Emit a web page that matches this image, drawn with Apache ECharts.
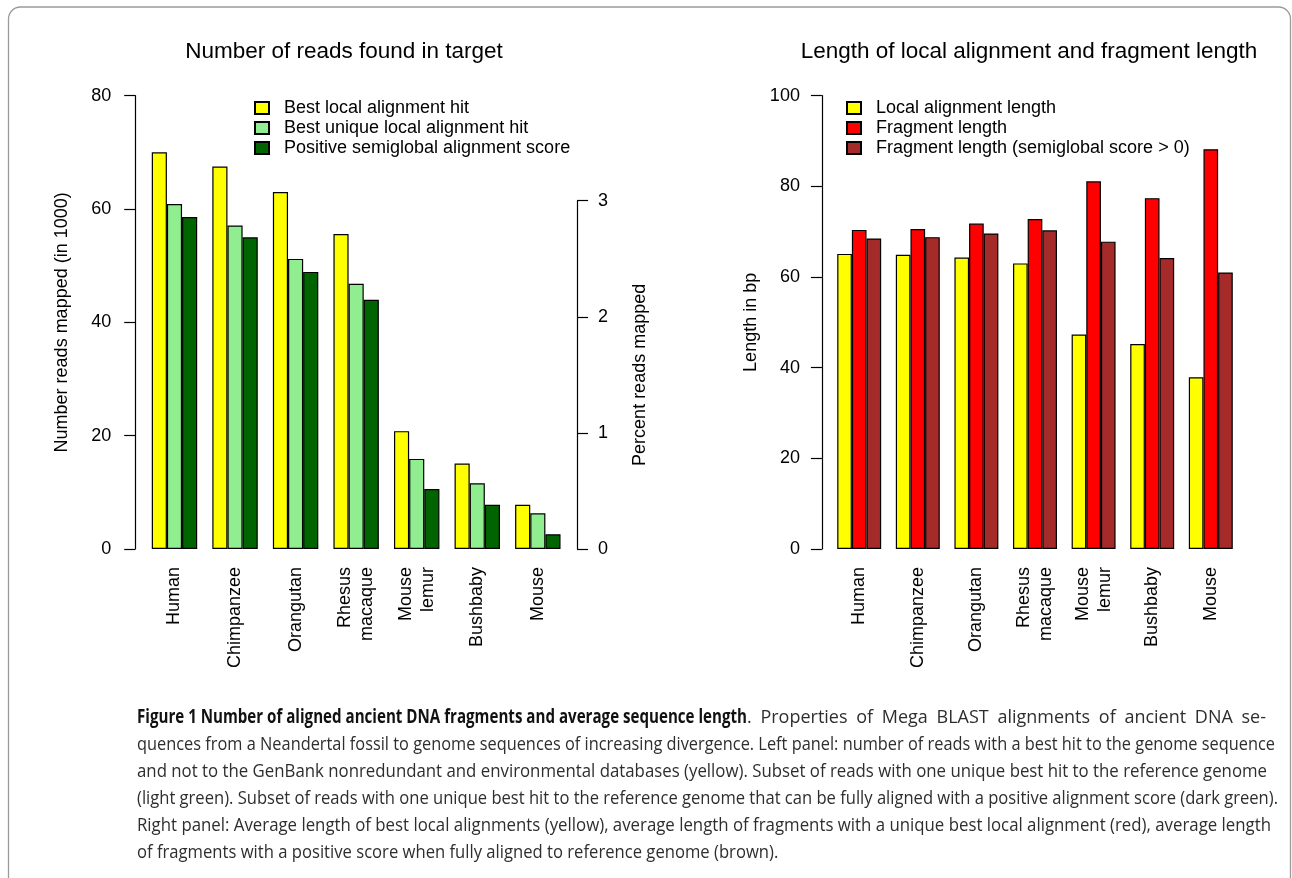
<!DOCTYPE html>
<html>
<head>
<meta charset="utf-8">
<script src="https://cdn.jsdelivr.net/npm/echarts@6/dist/echarts.min.js"></script>
<style>
  html, body { margin: 0; padding: 0; background: #fff; }
  #chart { width: 1292px; height: 878px; }
</style>
</head>
<body>
<div id="chart"></div>
<script>
// Species, ordered by increasing divergence from the Neandertal reads
const species = ['Human', 'Chimpanzee', 'Orangutan', 'Rhesus\nmacaque', 'Mouse\nlemur', 'Bushbaby', 'Mouse'];

// Left panel: reads mapped (in 1000)
const bestLocalHit       = [70.0, 67.5, 63.0, 55.6, 20.8, 15.1, 7.8];
const bestUniqueHit      = [60.9, 57.1, 51.2, 46.8, 15.9, 11.6, 6.3];
const positiveSemiglobal = [58.6, 55.0, 48.9, 44.0, 10.6, 7.8, 2.6];

// Right panel: lengths in bp
const localAlignLength       = [65.1, 64.9, 64.3, 63.0, 47.3, 45.2, 37.9];
const fragmentLength         = [70.4, 70.6, 71.8, 72.8, 81.1, 77.4, 88.2];
const fragmentLengthPositive = [68.5, 68.8, 69.6, 70.3, 67.8, 64.2, 61.0];

// Axis ranges
const readsAxis   = { min: 0, max: 80, interval: 20 };
const percentAxis = { min: 0, max: 3, interval: 1 };
const lengthAxis  = { min: 0, max: 100, interval: 20 };

// Caption
const captionBold = 'Figure 1 Number of aligned ancient DNA fragments and average sequence length';
const captionLines = [
  '. Properties of Mega BLAST alignments of ancient DNA se-',
  'quences from a Neandertal fossil to genome sequences of increasing divergence. Left panel: number of reads with a best hit to the genome sequence',
  'and not to the GenBank nonredundant and environmental databases (yellow). Subset of reads with one unique best hit to the reference genome',
  '(light green). Subset of reads with one unique best hit to the reference genome that can be fully aligned with a positive alignment score (dark green).',
  'Right panel: Average length of best local alignments (yellow), average length of fragments with a unique best local alignment (red), average length',
  'of fragments with a positive score when fully aligned to reference genome (brown).'
];

const FONT = '"Liberation Sans", Arial, Helvetica, sans-serif';
const CAP_FONT = '"Open Sans", sans-serif';
const CAP_SIZE = 19;

function valueAxis(gridIndex, range, position, offset, margin, name, nameGap) {
  return {
    type: 'value', gridIndex, position, offset,
    min: range.min, max: range.max, interval: range.interval,
    name, nameLocation: 'middle', nameGap,
    nameTextStyle: { fontFamily: FONT, fontSize: 18, color: '#000' },
    axisLine: { show: true, lineStyle: { color: '#000', width: 1.2 } },
    axisTick: { show: true, length: 11, lineStyle: { color: '#000', width: 1.2 } },
    axisLabel: { margin, fontFamily: FONT, fontSize: 18, color: '#000' },
    splitLine: { show: false }
  };
}

function categoryAxis(gridIndex, show) {
  return {
    type: 'category', gridIndex, data: species, show,
    axisLine: { show: false }, axisTick: { show: false },
    axisLabel: {
      rotate: 90, interval: 0, margin: 18, hideOverlap: false,
      fontFamily: FONT, fontSize: 18, lineHeight: 22, color: '#000'
    }
  };
}

function bars(name, data, color, xi, yi) {
  return {
    type: 'bar', name, data, xAxisIndex: xi, yAxisIndex: yi,
    barGap: '0%', barCategoryGap: '25%',
    itemStyle: { color, borderColor: '#000', borderWidth: 1.2 },
    emphasis: { disabled: true }, animation: false
  };
}

const legendCommon = {
  orient: 'vertical', icon: 'rect', itemWidth: 14, itemHeight: 12, itemGap: 0,
  selectedMode: false, padding: 0,
  textStyle: { fontFamily: FONT, fontSize: 18, color: '#000', lineHeight: 20, padding: [0, 0, 0, 10] }
};

// Caption lines, each fitted horizontally to the justified column width
const measureCtx = document.createElement('canvas').getContext('2d');
function widthOf(str, weight) {
  measureCtx.font = (weight || 'normal') + ' ' + CAP_SIZE + 'px ' + CAP_FONT;
  return measureCtx.measureText(str).width;
}
const capLeft = 137;
const capRight = [1266, 1275, 1267, 1278, 1271];
const boldEnd = 747;
const capTop = 718, capStep = 27;
const boldColor = '#111', textColor = '#2e2e2e';

function capText(str, x, y, s, weight, fill) {
  return {
    type: 'text', x, y, scaleX: s, scaleY: 1, silent: true,
    style: { text: str, align: 'left', verticalAlign: 'middle',
             fontFamily: CAP_FONT, fontSize: CAP_SIZE, fontWeight: weight, fill }
  };
}

// Lines 2..5 set the common horizontal glyph scale of the body text
let scaleSum = 0, scaleCount = 0;
const lineScales = captionLines.map((line, i) => {
  if (i > 0 && i < capRight.length) {
    const s = (capRight[i] - capLeft) / widthOf(line);
    scaleSum += s; scaleCount += 1;
    return s;
  }
  return null;
});
const bodyScale = scaleSum / scaleCount;

const captionGraphics = [];
captionLines.forEach((line, i) => {
  const y = capTop + i * capStep;
  if (i === 0) {
    // bold heading, then the rest of the line justified word by word
    const boldScale = (boldEnd - capLeft) / widthOf(captionBold, 'bold');
    captionGraphics.push(capText(captionBold, capLeft, y, boldScale, 'bold', boldColor));
    const fullStretch = (capRight[0] - boldEnd) / widthOf(line);
    const glyphScale = (bodyScale + fullStretch) / 2;
    const words = line.split(' ');
    const widths = words.map(w => widthOf(w) * glyphScale);
    const total = widths.reduce((a, b) => a + b, 0);
    const gap = (capRight[0] - boldEnd - total) / (words.length - 1);
    let x = boldEnd;
    words.forEach((w, k) => {
      captionGraphics.push(capText(w, x, y, glyphScale, 'normal', textColor));
      x += widths[k] + gap;
    });
  } else {
    const s = lineScales[i] != null ? lineScales[i] : bodyScale;
    captionGraphics.push(capText(line, capLeft, y, s, 'normal', textColor));
  }
});

const chart = echarts.init(document.getElementById('chart'), null, { renderer: 'canvas' });
chart.setOption({
  animation: false,
  backgroundColor: '#fff',
  title: [
    { text: 'Number of reads found in target', left: 344, top: 40, textAlign: 'center', padding: 0,
      textStyle: { fontFamily: FONT, fontSize: 22.5, fontWeight: 'normal', color: '#000' } },
    { text: 'Length of local alignment and fragment length', left: 1029, top: 40, textAlign: 'center', padding: 0,
      textStyle: { fontFamily: FONT, fontSize: 22.5, fontWeight: 'normal', color: '#000' } }
  ],
  legend: [
    Object.assign({}, legendCommon, {
      left: 254, top: 98,
      data: ['Best local alignment hit', 'Best unique local alignment hit', 'Positive semiglobal alignment score']
    }),
    Object.assign({}, legendCommon, {
      left: 846, top: 98,
      data: ['Local alignment length', 'Fragment length', 'Fragment length (semiglobal score > 0)']
    })
  ],
  grid: [
    { left: 144.2, top: 95.7, width: 423.9, height: 453.3 },
    { left: 144.2, top: 200.7, width: 423.9, height: 348.3 },
    { left: 829.9, top: 95.7, width: 410.2, height: 453.3 }
  ],
  xAxis: [categoryAxis(0, true), categoryAxis(1, false), categoryAxis(2, true)],
  yAxis: [
    valueAxis(0, readsAxis, 'left', 9, 24, 'Number reads mapped (in 1000)', 64),
    valueAxis(1, percentAxis, 'right', 9, 21, 'Percent reads mapped', 54),
    valueAxis(2, lengthAxis, 'left', 8, 22, 'Length in bp', 62)
  ],
  series: [
    bars('Best local alignment hit', bestLocalHit, '#ffff00', 0, 0),
    bars('Best unique local alignment hit', bestUniqueHit, '#90ee90', 0, 0),
    bars('Positive semiglobal alignment score', positiveSemiglobal, '#006400', 0, 0),
    bars('Local alignment length', localAlignLength, '#ffff00', 2, 2),
    bars('Fragment length', fragmentLength, '#ff0000', 2, 2),
    bars('Fragment length (semiglobal score > 0)', fragmentLengthPositive, '#a52a2a', 2, 2)
  ],
  graphic: [
    { type: 'rect', shape: { x: 8.5, y: 7, width: 1282, height: 900, r: 12 },
      style: { fill: 'none', stroke: '#9a9a9a', lineWidth: 1.3 }, silent: true }
  ].concat(captionGraphics)
});
</script>
</body>
</html>
